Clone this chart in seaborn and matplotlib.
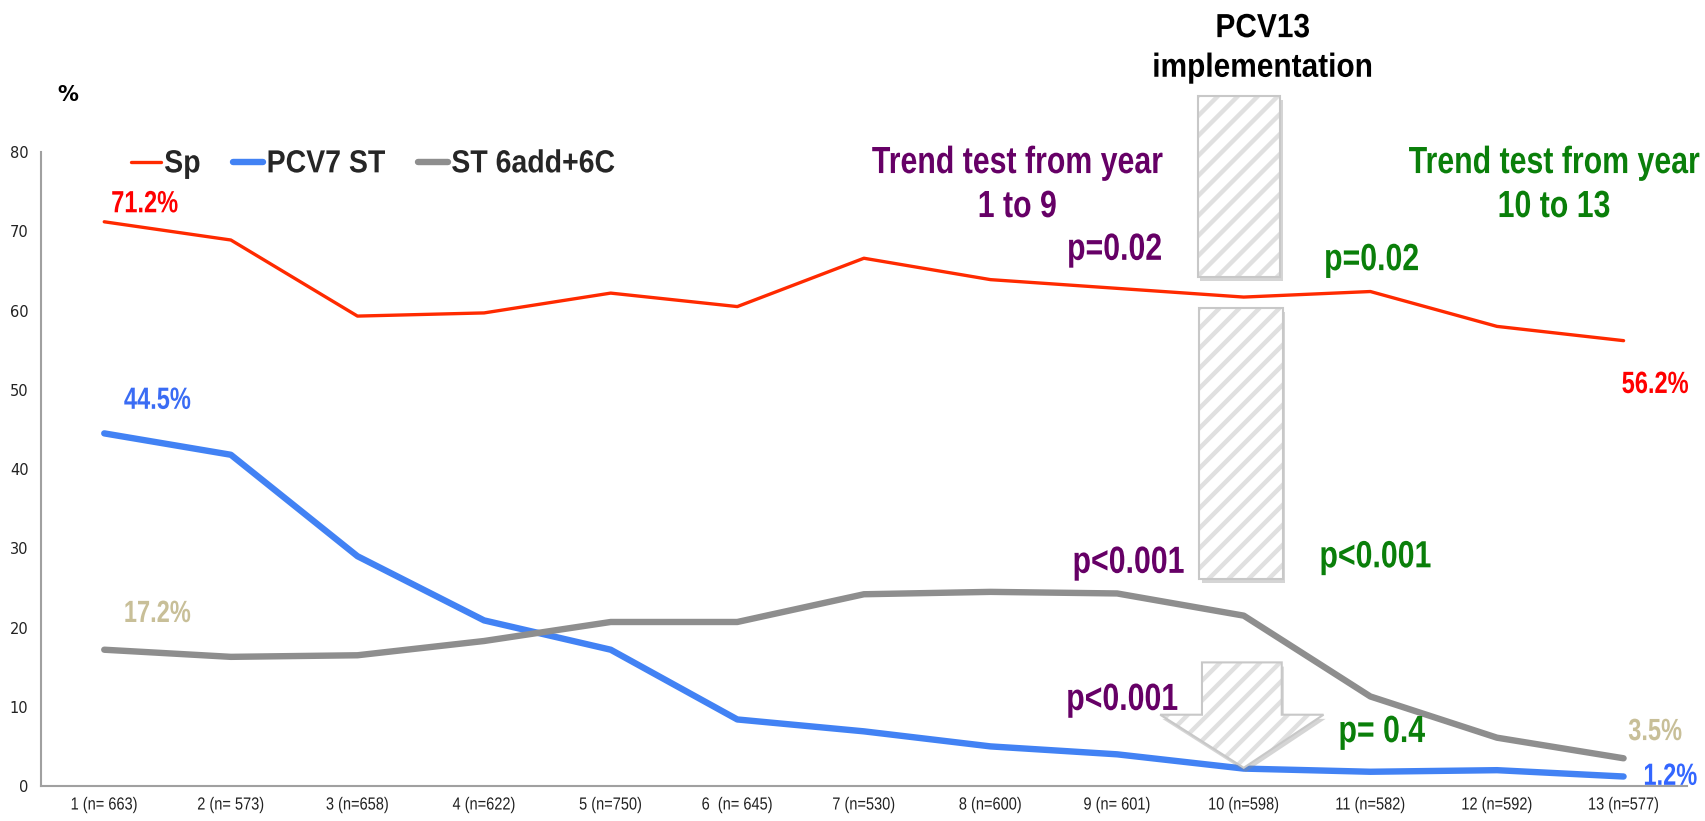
import numpy as np
import pandas as pd
import seaborn as sns
import matplotlib.pyplot as plt
from matplotlib.patches import Rectangle, Polygon
from matplotlib.lines import Line2D
from matplotlib.transforms import Affine2D, IdentityTransform
import matplotlib.patheffects as pe

years = ["1 (n= 663)", "2 (n= 573)", "3 (n=658)", "4 (n=622)", "5 (n=750)", "6  (n= 645)", "7 (n=530)",
         "8 (n=600)", "9 (n= 601)", "10 (n=598)", "11 (n=582)", "12 (n=592)", "13 (n=577)"]
sp = [71.2, 68.9, 59.3, 59.7, 62.2, 60.5, 66.6, 63.9, 62.8, 61.7, 62.4, 58.0, 56.2]
pcv7 = [44.5, 41.8, 29.0, 20.9, 17.2, 8.4, 6.9, 5.0, 4.0, 2.2, 1.8, 2.0, 1.2]
st6 = [17.2, 16.3, 16.5, 18.3, 20.7, 20.7, 24.2, 24.5, 24.3, 21.5, 11.3, 6.1, 3.5]
series_names = ["Sp", "PCV7 ST", "ST 6add+6C"]
yticks = [0, 10, 20, 30, 40, 50, 60, 70, 80]

sns.set_style("white")
plt.rcParams["font.family"] = ["DejaVu Sans"]
FONT = "Liberation Sans"


# the original uses a condensed bold face: stretch glyphs vertically to imitate it
class Stretch(pe.AbstractPathEffect):
    def __init__(self, sy):
        super().__init__()
        self.sy = sy

    def draw_path(self, renderer, gc, tpath, affine, rgbFace=None):
        renderer.draw_path(gc, tpath, Affine2D().scale(1, self.sy) + affine, rgbFace)


df = pd.DataFrame({"x": np.arange(len(years)), "Sp": sp, "PCV7 ST": pcv7, "ST 6add+6C": st6})

fig = plt.figure(figsize=(17.06, 8.21), dpi=100)
ax = fig.add_axes([0.024, 0.0426, 0.9648, 0.7722])

colors = {"Sp": "#ff2a00", "PCV7 ST": "#4282f4", "ST 6add+6C": "#8e8e8e"}
widths = {"Sp": 2.4, "PCV7 ST": 4.6, "ST 6add+6C": 4.6}
for s in series_names:
    sns.lineplot(data=df, x="x", y=s, ax=ax, color=colors[s], linewidth=widths[s],
                 label=s, solid_capstyle="round", zorder=3)

ax.set_xlim(-0.5, len(years) - 0.5)
ax.set_ylim(0, 80)
ax.set_yticks(yticks)
ax.set_yticklabels([str(v) for v in yticks], fontsize=10.5, color="#222222")
ax.set_xticks(np.arange(len(years)))
ax.set_xticklabels(years, fontsize=10.5, family=FONT, color="#222222")
for lab in ax.get_xticklabels():
    lab.set_path_effects([Stretch(1.2)])
ax.set_xticks(np.arange(len(years) + 1) - 0.5, minor=True)
ax.tick_params(axis="x", which="major", length=0, pad=9)
ax.tick_params(axis="x", which="minor", length=5, color="#a0a0a0", direction="out")
ax.tick_params(axis="y", length=5, color="#a0a0a0", direction="out", pad=4)
ax.set_xlabel("")
ax.set_ylabel("")
for side in ["top", "right"]:
    ax.spines[side].set_visible(False)
for side in ["left", "bottom"]:
    ax.spines[side].set_color("#a0a0a0")
    ax.spines[side].set_linewidth(1.5)

leg = ax.legend(loc="upper left", bbox_to_anchor=(0.046, 1.022), ncol=3, frameon=False,
                handlelength=1.05, handletextpad=0.12, columnspacing=1.15, borderpad=0,
                prop={"family": FONT, "weight": "bold", "size": 20.5})
for txt in leg.get_texts():
    txt.set_path_effects([Stretch(1.12)])

# hatched marker for PCV13 implementation (stripes drawn by hand, 20 px apart)
shadow = [pe.withSimplePatchShadow(offset=(1.5, -3), shadow_rgbFace="#888888", alpha=0.35), pe.Normal()]


def hatched(patch_cls, *args):
    p = patch_cls(*args, facecolor="white", edgecolor="none", linewidth=0,
                  clip_on=False, zorder=4, path_effects=shadow)
    ax.add_patch(p)
    ext = p.get_window_extent()
    h = ext.y1 - ext.y0
    for xs in np.arange(ext.x0 - h, ext.x1 + 20, 20):
        ln = Line2D([xs, xs + h], [ext.y0, ext.y1], transform=IdentityTransform(),
                    color="#e0e0e0", linewidth=3.2, zorder=4.5)
        ax.add_line(ln)
        ln.set_clip_path(p)
    b = patch_cls(*args, facecolor="none", edgecolor="#c8c8c8", linewidth=1.5, clip_on=False, zorder=5)
    ax.add_patch(b)


hatched(Rectangle, (8.64, 64.2), 0.65, 22.9)
hatched(Rectangle, (8.65, 26.1), 0.66, 34.2)
hatched(Polygon, [(8.67, 15.6), (9.30, 15.6), (9.30, 9.0), (9.63, 9.0), (9.0, 2.3),
                  (8.34, 9.0), (8.67, 9.0)])


def t(x, y, s, color, size, sy=1.25):
    ax.text(x, y, s, color=color, fontsize=size, family=FONT, weight="bold",
            ha="center", va="baseline", clip_on=False, zorder=6,
            path_effects=[Stretch(sy)])


purple = "#660066"
green = "#0a7f0a"
ax.text(-0.29, 87.2, "%", color="black", fontsize=15, weight="bold", ha="center", va="center", clip_on=False)
t(0.32, 72.4, "71.2%", "#ff0000", 17, 1.3)
t(0.42, 47.6, "44.5%", "#3a6cf4", 17, 1.3)
t(0.42, 20.7, "17.2%", "#c8bf98", 17, 1.3)
t(12.25, 49.6, "56.2%", "#ff0000", 17, 1.3)
t(12.25, 5.8, "3.5%", "#c8bf98", 17, 1.3)
t(12.37, 0.15, "1.2%", "#3366ff", 17, 1.3)
t(9.15, 94.5, "PCV13", "black", 21.5, 1.12)
t(9.15, 89.5, "implementation", "black", 21.5, 1.12)
t(7.21, 77.35, "Trend test from year", purple, 21.8)
t(7.21, 71.8, "1 to 9", purple, 21.8)
t(7.98, 66.4, "p=0.02", purple, 21.8)
t(11.45, 77.35, "Trend test from year", green, 21.8)
t(11.45, 71.8, "10 to 13", green, 21.8)
t(10.01, 65.1, "p=0.02", green, 21.8)
t(8.09, 26.9, "p<0.001", purple, 21.8)
t(10.04, 27.6, "p<0.001", green, 21.8)
t(8.04, 9.6, "p<0.001", purple, 21.8)
t(10.09, 5.55, "p= 0.4", green, 21.8)

fig.savefig("out.png", dpi=100)
